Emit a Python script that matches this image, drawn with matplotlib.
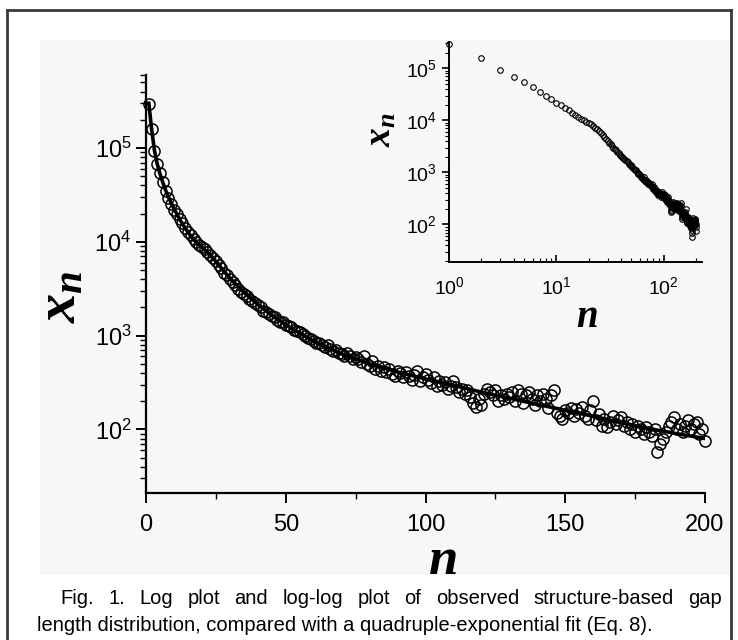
import numpy as np
import matplotlib.pyplot as plt
from matplotlib.patches import Rectangle
from matplotlib.lines import Line2D
from matplotlib.ticker import MultipleLocator, LogLocator, NullFormatter

plt.rcParams['font.family'] = 'Liberation Sans'
plt.rcParams['mathtext.fontset'] = 'custom'
plt.rcParams['mathtext.rm'] = 'Liberation Sans'
plt.rcParams['mathtext.it'] = 'Liberation Serif:italic:bold'
plt.rcParams['mathtext.bf'] = 'Liberation Serif:bold'

# observed gap length distribution, n = 1..200
n = np.arange(1, 201)
x_obs = [
    295000, 160000, 92000, 67000, 53500, 43500, 35000, 29500, 25500, 22000,
    19800, 17600, 15700, 14100, 12600, 11700, 10600, 10000, 9300, 8900,
    8400, 7800, 7200, 6800, 6200, 5600, 5200, 4700, 4400, 4000,
    3700, 3450, 3150, 2950, 2800, 2650, 2450, 2350, 2200, 2100,
    2000, 1850, 1800, 1700, 1620, 1580, 1480, 1400, 1380, 1300,
    1260, 1230, 1150, 1120, 1100, 1040, 980, 950, 920, 880,
    840, 830, 790, 760, 800, 720, 690, 700, 650, 640,
    610, 660, 600, 570, 590, 560, 520, 610, 500, 470,
    530, 440, 480, 420, 460, 410, 440, 390, 370, 420,
    400, 360, 410, 370, 340, 380, 420, 330, 360, 390,
    340, 310, 360, 290, 330, 300, 320, 270, 290, 330,
    280, 250, 270, 240, 260, 220, 190, 175, 210, 180,
    240, 270, 250, 230, 260, 200, 230, 210, 240, 220,
    250, 200, 260, 240, 190, 230, 250, 210, 180, 230,
    200, 240, 210, 170, 230, 260, 150, 140, 130, 160,
    150, 170, 140, 165, 150, 175, 140, 130, 160, 200,
    125, 145, 110, 130, 105, 120, 140, 115, 125, 135,
    110, 120, 100, 115, 95, 110, 100, 90, 105, 95,
    85, 100, 58, 70, 80, 95, 110, 120, 135, 100,
    115, 95, 110, 125, 100, 115, 120, 90, 100, 75,
]

# quadruple-exponential fit
n_fit = [1, 2, 3, 4, 5, 6, 7, 8, 10, 12, 14, 16, 18, 20, 22, 24, 26, 28, 30,
         35, 40, 45, 50, 60, 70, 80, 90, 100, 110, 120, 130, 140, 150, 160,
         170, 180, 190, 200]
x_fit = [300000, 160000, 95000, 68000, 53000, 43000, 35500, 30000, 22500,
         17500, 14000, 11500, 9900, 8800, 7700, 6700, 5700, 4800, 4100,
         2900, 2150, 1650, 1300, 870, 640, 500, 410, 345, 295, 250, 215,
         185, 160, 138, 118, 102, 90, 80]

caption1 = 'Fig. 1.  Log plot and log-log plot of observed structure-based gap'
caption2 = 'length distribution, compared with a quadruple-exponential fit (Eq. 8).'

W, H = 738, 640
fig = plt.figure(figsize=(W / 100, H / 100), dpi=100)

# scanned-page look: grey panel and frame
fig.patches.append(Rectangle((40 / W, 1 - 575 / H), (731 - 40) / W, (575 - 40) / H,
                             transform=fig.transFigure, facecolor='#f7f7f7',
                             edgecolor='none', zorder=-10))
for xs, ys in [([7, 7], [640, 10]), ([7, 731], [10, 10]), ([731, 731], [10, 640])]:
    fig.lines.append(Line2D([v / W for v in xs], [1 - v / H for v in ys],
                            transform=fig.transFigure, color='#3a3a3a', lw=2, zorder=-5))

# main log plot
ax = fig.add_axes([146 / W, 1 - 493 / H, 559 / W, 418 / H])
ax.patch.set_alpha(0)
ax.set_yscale('log')
ax.plot(n_fit, x_fit, color='black', lw=2.6, zorder=3)
ax.plot(n, x_obs, 'o', ms=8, mfc='none', mec='black', mew=1.1, zorder=2, clip_on=False)
ax.set_xlim(0, 200)
ax.set_ylim(21, 6e5)
ax.spines['top'].set_visible(False)
ax.spines['right'].set_visible(False)
ax.spines['left'].set_linewidth(1.6)
ax.spines['bottom'].set_linewidth(1.6)
ax.xaxis.set_major_locator(MultipleLocator(50))
ax.xaxis.set_minor_locator(MultipleLocator(25))
ax.yaxis.set_major_locator(LogLocator(base=10, numticks=10))
ax.yaxis.set_minor_locator(LogLocator(base=10, subs=np.arange(2, 10), numticks=20))
ax.yaxis.set_minor_formatter(NullFormatter())
ax.tick_params(axis='both', which='major', labelsize=17, length=7, width=1.4, direction='out')
ax.tick_params(axis='both', which='minor', length=4, width=1.0, direction='out')
ax.tick_params(axis='x', pad=8)
ax.set_xlabel(r'$n$', fontsize=38)
ax.xaxis.set_label_coords(0.53, -0.1)
ax.set_ylabel(r'$x_n$', fontsize=42)
ax.yaxis.set_label_coords(-0.105, 0.47)

# inset log-log plot
ins = fig.add_axes([449 / W, 1 - 262 / H, 253 / W, 220 / H])
ins.patch.set_alpha(0)
ins.set_xscale('log')
ins.set_yscale('log')
ins.plot(n, x_obs, 'o', ms=4, mfc='none', mec='black', mew=0.8, clip_on=False)
ins.set_xlim(1, 227)
ins.set_ylim(19, 3.2e5)
ins.spines['top'].set_visible(False)
ins.spines['right'].set_visible(False)
ins.spines['left'].set_linewidth(1.4)
ins.spines['bottom'].set_linewidth(1.4)
ins.xaxis.set_minor_locator(LogLocator(base=10, subs=np.arange(2, 10), numticks=20))
ins.yaxis.set_minor_locator(LogLocator(base=10, subs=np.arange(2, 10), numticks=20))
ins.xaxis.set_minor_formatter(NullFormatter())
ins.yaxis.set_minor_formatter(NullFormatter())
ins.tick_params(axis='both', which='major', labelsize=14, length=5, width=1.2, direction='out')
ins.tick_params(axis='both', which='minor', length=3, width=0.8, direction='out')
ins.tick_params(axis='x', which='both', direction='in', pad=10)
ins.set_xlabel(r'$n$', fontsize=28)
ins.xaxis.set_label_coords(0.545, -0.17)
ins.set_ylabel(r'$x_n$', fontsize=27)
ins.yaxis.set_label_coords(-0.2, 0.6)

# caption, first line justified between x=60 and x=722
cap_size = 14.5
renderer = fig.canvas.get_renderer()
tw = []
for w in caption1.split():
    t = fig.text(0, 0, w, fontsize=cap_size, va='baseline')
    tw.append((t, t.get_window_extent(renderer).width))
left, right = 60, 722
total = sum(wd for _, wd in tw)
space = (right - left - total) / (len(tw) - 1)
xpos = left
for t, wd in tw:
    t.set_position((xpos / W, 1 - 604 / H))
    xpos += wd + space
fig.text(37 / W, 1 - 631 / H, caption2, fontsize=cap_size, ha='left', va='baseline')

fig.savefig('out.png', dpi=100)
